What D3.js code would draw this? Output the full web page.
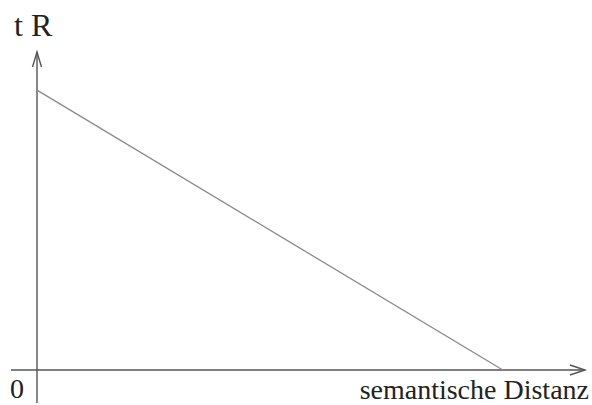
<!DOCTYPE html>
<html>
<head>
<meta charset="utf-8">
<script src="https://cdn.jsdelivr.net/npm/d3@7"></script>
<style>
  body { margin: 0; background: #fff; }
  svg { display: block; }
  text { font-family: "Liberation Serif", "DejaVu Serif", serif; fill: #222; }
</style>
</head>
<body>
<svg width="592" height="405"></svg>
<script>
const width = 592, height = 405;
const svg = d3.select("svg");

// data: reaction time vs semantic distance (schematic)
const distance = [0, 0.85];
const reactionTime = [0.88, 0];
const xLabel = "semantische Distanz";
const yLabel = "t R";
const originLabel = "0";

const x = d3.scaleLinear().domain([0, 1]).range([37, 585]);
const y = d3.scaleLinear().domain([0, 1]).range([370, 52]);

const axisColor = "#555";

// x axis with arrow
svg.append("line")
    .attr("x1", 11).attr("x2", x(1))
    .attr("y1", y(0)).attr("y2", y(0))
    .attr("stroke", axisColor).attr("stroke-width", 1.4);
svg.append("path")
    .attr("d", `M${x(1) - 15},${y(0) - 5}L${x(1)},${y(0)}L${x(1) - 15},${y(0) + 5}`)
    .attr("fill", "none").attr("stroke", axisColor).attr("stroke-width", 1.4);

// y axis with arrow
svg.append("line")
    .attr("x1", x(0)).attr("x2", x(0))
    .attr("y1", 403).attr("y2", y(1))
    .attr("stroke", axisColor).attr("stroke-width", 1.4);
svg.append("path")
    .attr("d", `M${x(0) - 4.5},${y(1) + 15}L${x(0)},${y(1)}L${x(0) + 4.5},${y(1) + 15}`)
    .attr("fill", "none").attr("stroke", axisColor).attr("stroke-width", 1.4);

// the line
const pts = distance.map((d, i) => ({ d, t: reactionTime[i] }));
svg.append("path")
    .datum(pts)
    .attr("fill", "none")
    .attr("stroke", "#8a8a8a")
    .attr("stroke-width", 1.3)
    .attr("d", d3.line().x(p => x(p.d)).y(p => y(p.t)));

// labels
svg.append("text")
    .attr("x", 14).attr("y", 36)
    .style("font-size", "32px")
    .text(yLabel);

svg.append("text")
    .attr("x", 10).attr("y", 398)
    .style("font-size", "28px")
    .text(originLabel);

svg.append("text")
    .attr("x", 589).attr("y", 399)
    .attr("text-anchor", "end")
    .style("font-size", "28px")
    .text(xLabel);
</script>
</body>
</html>
